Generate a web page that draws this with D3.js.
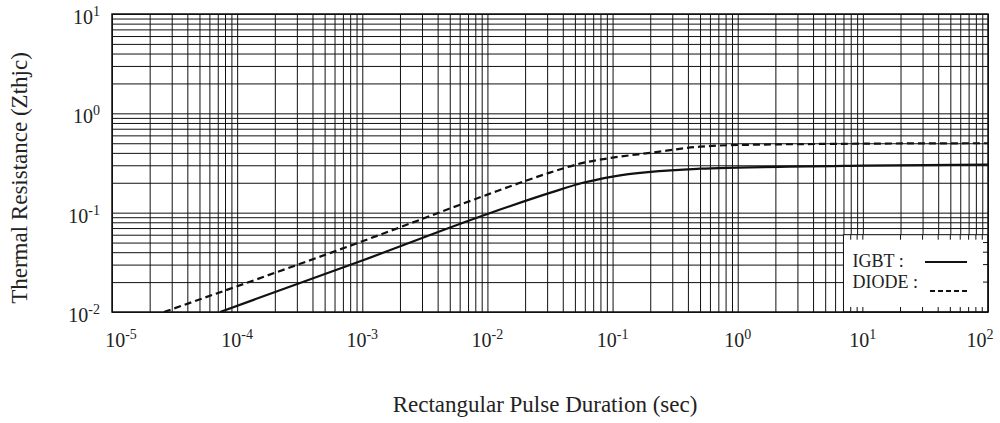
<!DOCTYPE html>
<html>
<head>
<meta charset="utf-8">
<script src="https://cdn.jsdelivr.net/npm/d3@7/dist/d3.min.js"></script>
<style>
  body { margin: 0; background: #fff; }
  svg text { font-family: "Liberation Serif", "Times New Roman", serif; fill: #222; }
</style>
</head>
<body>
<div id="chart"></div>
<script>
// pulse duration (sec) vs Zthjc
const igbtT = [7.3e-5, 1e-3, 1e-2, 3.2e-2, 5.8e-2, 0.1, 0.5, 1, 10, 100];
const igbtZ = [0.01, 0.033, 0.097, 0.159, 0.2, 0.231, 0.277, 0.284, 0.297, 0.304];
const diodeT = [2.6e-5, 1e-3, 1e-2, 1.82e-2, 3.16e-2, 5.8e-2, 0.1, 0.2, 0.5, 1, 10, 100];
const diodeZ = [0.01, 0.0515, 0.152, 0.2, 0.253, 0.317, 0.358, 0.40, 0.462, 0.48, 0.495, 0.5];

const xDecades = [-5, -4, -3, -2, -1, 0, 1, 2];
const yDecades = [-2, -1, 0, 1];

const width = 1000, height = 423;
const margin = { left: 112, right: 12, top: 14, bottom: 111 };
const w = width - margin.left - margin.right;
const h = height - margin.top - margin.bottom;

const svg = d3.select("#chart").append("svg").attr("width", width).attr("height", height);
const g = svg.append("g").attr("transform", `translate(${margin.left},${margin.top})`);

const x = d3.scaleLog().domain([1e-5, 1e2]).range([0, w]);
const y = d3.scaleLog().domain([1e-2, 1e1]).range([h, 0]);

function gridValues(decs) {
  let v = [];
  for (let i = 0; i < decs.length - 1; i++)
    for (let k = 1; k <= 9; k++) v.push(k * Math.pow(10, decs[i]));
  v.push(Math.pow(10, decs[decs.length - 1]));
  return v;
}
const xGrid = gridValues(xDecades);
const yGrid = gridValues(yDecades);

// grid lines via axes
g.append("g").attr("class", "grid").attr("transform", `translate(0,${h})`)
  .call(d3.axisBottom(x).tickValues(xGrid).tickSize(-h).tickFormat(""))
  .call(s => s.select(".domain").remove());
g.append("g").attr("class", "grid")
  .call(d3.axisLeft(y).tickValues(yGrid).tickSize(-w).tickFormat(""))
  .call(s => s.select(".domain").remove());
g.selectAll(".grid line").attr("stroke", "#111").attr("stroke-width", 1);

// curves
svg.append("clipPath").attr("id", "plotclip")
  .append("rect").attr("width", w).attr("height", h);
const line = d3.line().x(d => x(d[0])).y(d => y(d[1])).curve(d3.curveMonotoneX);

g.append("path").datum(d3.zip(igbtT, igbtZ))
  .attr("d", line).attr("fill", "none").attr("stroke", "#111").attr("stroke-width", 2.2)
  .attr("clip-path", "url(#plotclip)");
g.append("path").datum(d3.zip(diodeT, diodeZ))
  .attr("d", line).attr("fill", "none").attr("stroke", "#111").attr("stroke-width", 2.2)
  .attr("stroke-dasharray", "7,4").attr("clip-path", "url(#plotclip)");

// legend box, sitting on the grid cell from 7 s and 0.06
const lx0 = x(7), ly0 = y(0.06);
g.append("rect").attr("x", lx0).attr("y", ly0).attr("width", w - lx0).attr("height", h - ly0)
  .attr("fill", "#fff").attr("stroke", "#111").attr("stroke-width", 1);
const stub = 5;
xGrid.filter(v => x(v) > lx0 + 1 && x(v) < w - 1).forEach(v => {
  g.append("line").attr("x1", x(v)).attr("x2", x(v)).attr("y1", ly0).attr("y2", ly0 + stub).attr("stroke", "#111");
  g.append("line").attr("x1", x(v)).attr("x2", x(v)).attr("y1", h).attr("y2", h - stub).attr("stroke", "#111");
});
yGrid.filter(v => y(v) > ly0 + 1 && y(v) < h - 1).forEach(v => {
  g.append("line").attr("x1", w).attr("x2", w - stub).attr("y1", y(v)).attr("y2", y(v)).attr("stroke", "#111");
});
g.append("text").attr("x", lx0 + 9).attr("y", 253).attr("font-size", 18).text("IGBT :");
g.append("text").attr("x", lx0 + 9).attr("y", 274).attr("font-size", 18).text("DIODE :");
g.append("line").attr("x1", 925 - margin.left).attr("x2", 967 - margin.left)
  .attr("y1", 248).attr("y2", 248).attr("stroke", "#111").attr("stroke-width", 2);
g.append("line").attr("x1", 930 - margin.left).attr("x2", 970 - margin.left)
  .attr("y1", 277).attr("y2", 277).attr("stroke", "#111").attr("stroke-width", 2)
  .attr("stroke-dasharray", "5,3");

// frame
g.append("rect").attr("width", w).attr("height", h).attr("fill", "none")
  .attr("stroke", "#111").attr("stroke-width", 1.5);

// tick labels 10^n
function powLabel(sel, n) {
  sel.append("tspan").text("10");
  sel.append("tspan").attr("dy", -8).attr("font-size", 14).text(n);
}
xDecades.forEach((d, i) => {
  const shift = i === 0 ? 9 : (i === xDecades.length - 1 ? -8 : 0);
  const t = g.append("text").attr("x", x(Math.pow(10, d)) + shift).attr("y", h + 35)
    .attr("font-size", 20).attr("text-anchor", "middle");
  powLabel(t, d);
});
yDecades.forEach(d => {
  const t = g.append("text").attr("x", -12).attr("y", y(Math.pow(10, d)) + 10)
    .attr("font-size", 20).attr("text-anchor", "end");
  powLabel(t, d);
});

// axis titles
svg.append("text").attr("x", 545).attr("y", 412).attr("text-anchor", "middle")
  .attr("font-size", 23).text("Rectangular Pulse Duration (sec)");
svg.append("text").attr("transform", "translate(27,178) rotate(-90)").attr("text-anchor", "middle")
  .attr("font-size", 23).text("Thermal Resistance (Zthjc)");
</script>
</body>
</html>
